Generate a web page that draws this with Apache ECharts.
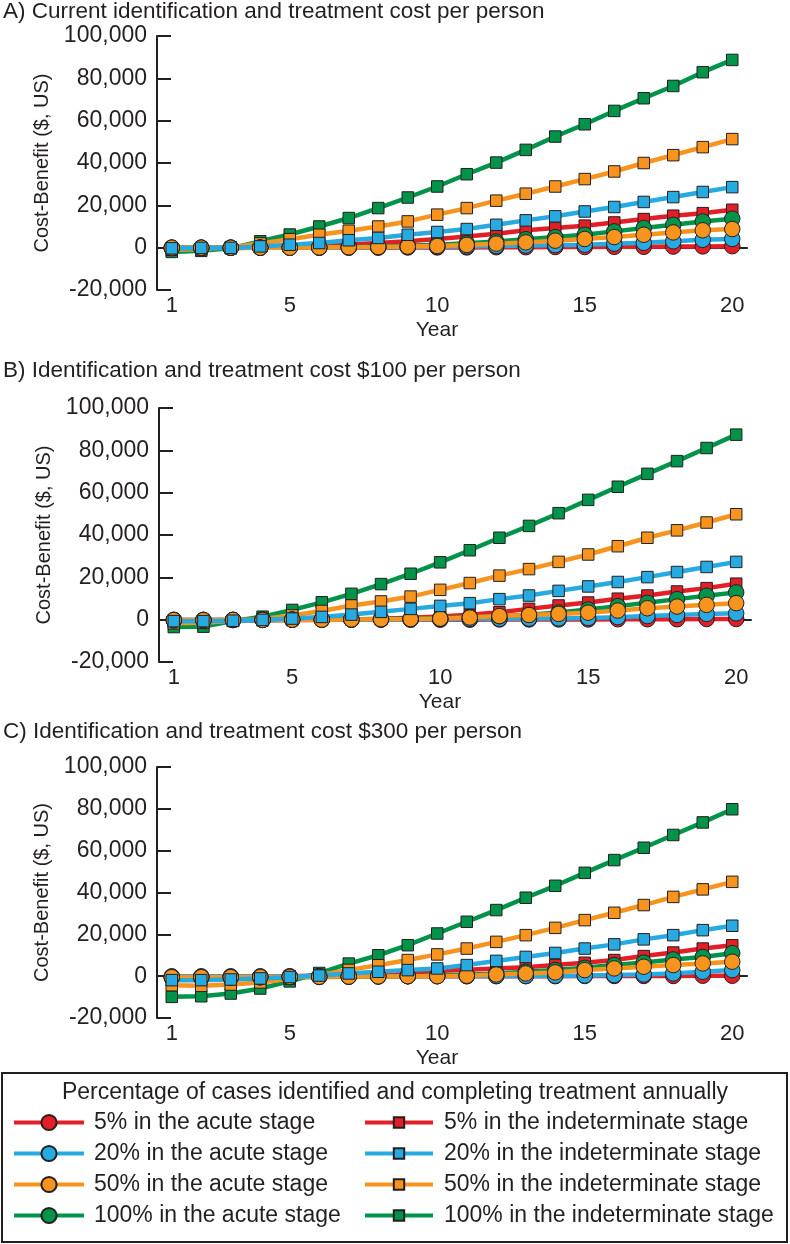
<!DOCTYPE html>
<html>
<head>
<meta charset="utf-8">
<script src="https://cdn.jsdelivr.net/npm/echarts@6/dist/echarts.min.js"></script>
<style>
html, body { margin: 0; padding: 0; background: #fff; }
#chart { width: 790px; height: 1244px; }
</style>
</head>
<body>
<div id="chart"></div>
<script>
// years on the x axis
var years = ['1','2','3','4','5','6','7','8','9','10','11','12','13','14','15','16','17','18','19','20'];
var yTicks = [-20000, 0, 20000, 40000, 60000, 80000, 100000];

// A) current cost
var aRedCi    = [0, 0, 0, 0, 0, 0, 0, 0, 100, 100, 100, 200, 200, 300, 300, 400, 400, 500, 600, 700];
var aBlueCi   = [0, 0, 0, 0, 0, 0, 100, 200, 300, 400, 600, 800, 1000, 1200, 1400, 1900, 2300, 3000, 3700, 4100];
var aOrangeCi = [0, 0, 0, 0, 0, 100, 200, 300, 500, 800, 1300, 1900, 2500, 3300, 4100, 5000, 6100, 7200, 8200, 8800];
var aGreenCi  = [-200, -200, -100, 0, 100, 200, 400, 600, 900, 1400, 2100, 2900, 4000, 5000, 6100, 7700, 9300, 10800, 12400, 13700];
var aRedSq    = [-300, -300, -100, 100, 400, 900, 1500, 2200, 3000, 4100, 5300, 6600, 8200, 9300, 10400, 11900, 13500, 15100, 16300, 17900];
var aBlueSq   = [-300, -100, -100, 600, 1400, 2200, 3500, 4600, 6100, 7400, 8800, 10800, 12900, 14800, 17100, 19200, 21600, 23900, 26300, 28600];
var aOrangeSq = [-1000, -800, 200, 2000, 4000, 6100, 8000, 10000, 12400, 15600, 18700, 22200, 25500, 28900, 32400, 36000, 40000, 43700, 47500, 51300];
var aGreenSq  = [-2000, -1500, -300, 3000, 6200, 10000, 14000, 18700, 23700, 28900, 34700, 40200, 46200, 52500, 58300, 64600, 70600, 76400, 82900, 88700];

// B) $100 per person
var bRedCi    = [-100, -100, -100, -100, 0, 0, 0, 0, 0, 0, 0, 100, 100, 100, 100, 200, 200, 200, 300, 300];
var bBlueCi   = [-100, -100, -100, 0, 0, 0, 0, 100, 100, 200, 300, 400, 500, 600, 800, 1200, 1700, 2200, 2700, 3000];
var bOrangeCi = [-200, -200, -100, -100, 0, 0, 100, 200, 300, 500, 1000, 1700, 2200, 2700, 3300, 4300, 5400, 6200, 7000, 7800];
var bGreenCi  = [-300, -300, -200, -100, 0, 100, 200, 300, 500, 800, 1200, 1600, 2300, 3400, 4800, 6400, 8000, 9700, 11300, 12900];
var bRedSq    = [-500, -500, -400, -300, -200, -100, 100, 400, 900, 1500, 2300, 3500, 5100, 6700, 8100, 9900, 11400, 13300, 14900, 17000];
var bBlueSq   = [-700, -700, -500, -100, 500, 1300, 2400, 3700, 5100, 6500, 7800, 9700, 11400, 13600, 15700, 17800, 20100, 22500, 24900, 27300];
var bOrangeSq = [-1700, -1500, -500, 300, 2000, 4100, 6700, 8600, 10900, 14100, 17300, 20800, 23900, 27300, 30800, 34700, 38700, 42200, 45900, 49800];
var bGreenSq  = [-3500, -3300, -600, 1400, 4600, 8200, 12200, 16800, 21700, 27100, 32800, 38700, 44300, 50300, 56600, 62800, 68900, 74900, 81100, 87400];

// C) $300 per person
var cRedCi    = [-100, -100, -100, -100, -100, 0, 0, 0, 0, 0, 0, 0, 0, 0, 100, 100, 100, 100, 200, 200];
var cBlueCi   = [-200, -200, -200, -200, -100, -100, -100, 0, 0, 0, 0, 100, 100, 200, 300, 500, 800, 1300, 2100, 2900];
var cOrangeCi = [-500, -500, -500, -400, -300, -300, -200, -100, 0, 0, 200, 800, 1300, 1800, 2900, 3700, 4500, 5300, 6100, 6900];
var cGreenCi  = [-800, -800, -700, -600, -500, -400, -300, -200, 0, 300, 700, 1300, 2100, 2900, 4000, 5300, 6500, 8000, 9200, 11000];
var cRedSq    = [-500, -500, -400, -300, 0, 300, 700, 1200, 1800, 2500, 3100, 3700, 4300, 5300, 6400, 7700, 9600, 11300, 13200, 14800];
var cBlueSq   = [-1900, -1900, -1600, -1100, -400, 300, 1300, 2100, 2900, 3700, 5300, 7300, 9200, 11100, 13200, 15200, 17600, 19600, 22000, 24100];
var cOrangeSq = [-4300, -4600, -4000, -3000, -1200, 500, 3000, 5200, 7700, 10400, 13200, 16400, 19600, 23100, 26800, 30300, 34000, 37900, 41500, 45100];
var cGreenSq  = [-9900, -9600, -8300, -5900, -2500, 1500, 6000, 10000, 14800, 20400, 26000, 31600, 37500, 43200, 49400, 55500, 61400, 67500, 73500, 79800];

var acuteNames = ['5% in the acute stage', '20% in the acute stage', '50% in the acute stage', '100% in the acute stage'];
var indetNames = ['5% in the indeterminate stage', '20% in the indeterminate stage', '50% in the indeterminate stage', '100% in the indeterminate stage'];
var panelTitles = [
    'A) Current identification and treatment cost per person',
    'B) Identification and treatment cost $100 per person',
    'C) Identification and treatment cost $300 per person'
];
var legendTitle = 'Percentage of cases identified and completing treatment annually';

var INK = '#231f20';
var FONT = '"Liberation Sans", Arial, sans-serif';
var COLORS = { red: '#e41e26', blue: '#27aae1', orange: '#f7941d', green: '#00934a' };

// panel positions (px)
var panels = [
    { titleTop: 0,   left: 157, top: 36,  width: 590, height: 254,
      sq: { red: aRedSq, blue: aBlueSq, orange: aOrangeSq, green: aGreenSq },
      ci: { red: aRedCi, blue: aBlueCi, orange: aOrangeCi, green: aGreenCi } },
    { titleTop: 359, left: 159, top: 408, width: 592, height: 254,
      sq: { red: bRedSq, blue: bBlueSq, orange: bOrangeSq, green: bGreenSq },
      ci: { red: bRedCi, blue: bBlueCi, orange: bOrangeCi, green: bGreenCi } },
    { titleTop: 720, left: 157, top: 767, width: 590, height: 251,
      sq: { red: cRedSq, blue: cBlueSq, orange: cOrangeSq, green: cGreenSq },
      ci: { red: cRedCi, blue: cBlueCi, orange: cOrangeCi, green: cGreenCi } }
];

var colorIndex = { red: 0, blue: 1, orange: 2, green: 3 };
// drawing order, last on top
var drawOrder = [
    ['red', 'sq'], ['green', 'sq'], ['orange', 'sq'],
    ['red', 'ci'], ['blue', 'ci'], ['green', 'ci'], ['orange', 'ci'],
    ['blue', 'sq']
];

function addCommas(v) {
    return String(v).replace(/\B(?=(\d{3})+(?!\d))/g, ',');
}

var myChart = echarts.init(document.getElementById('chart'));

var titles = [], grids = [], xAxes = [], yAxes = [], series = [];

panels.forEach(function (p, i) {
    titles.push({
        text: panelTitles[i],
        left: 3,
        top: p.titleTop,
        padding: 0,
        textStyle: { fontSize: 22.5, fontWeight: 'normal', color: INK, fontFamily: FONT }
    });
    grids.push({ left: p.left, top: p.top, width: p.width, height: p.height, containLabel: false });
    // labels axis at the bottom
    xAxes.push({
        type: 'category', gridIndex: i, data: years, boundaryGap: true, position: 'bottom',
        axisLine: { show: false, onZero: false },
        axisTick: { show: false },
        axisLabel: {
            fontSize: 22, color: INK, fontFamily: FONT, margin: 5,
            interval: function (idx, val) { return val === '1' || Number(val) % 5 === 0; }
        },
        splitLine: { show: false },
        name: 'Year', nameLocation: 'middle', nameGap: 30,
        nameTextStyle: { fontSize: 21, color: INK, fontFamily: FONT, padding: [0, 30, 0, 0] }
    });
    // zero line
    xAxes.push({
        type: 'category', gridIndex: i, data: years, boundaryGap: true, position: 'bottom',
        axisLine: { show: true, onZero: true, lineStyle: { color: INK, width: 2 } },
        axisTick: { show: false },
        axisLabel: { show: false },
        splitLine: { show: false }
    });
    yAxes.push({
        type: 'value', gridIndex: i, min: yTicks[0], max: yTicks[yTicks.length - 1], interval: 20000,
        axisLine: { show: true, onZero: false, lineStyle: { color: INK, width: 2 } },
        axisTick: { show: true, inside: true, length: 14, lineStyle: { color: INK, width: 2 } },
        axisLabel: { fontSize: 23, color: INK, fontFamily: FONT, margin: 10, formatter: addCommas },
        splitLine: { show: false },
        name: 'Cost-Benefit ($, US)', nameLocation: 'middle', nameRotate: 90, nameGap: 86,
        nameTextStyle: { fontSize: 20, color: INK, fontFamily: FONT }
    });
    drawOrder.forEach(function (d) {
        var col = d[0], kind = d[1];
        var isSq = kind === 'sq';
        series.push({
            type: 'line',
            name: isSq ? indetNames[colorIndex[col]] : acuteNames[colorIndex[col]],
            xAxisIndex: i * 2,
            yAxisIndex: i,
            data: p[kind][col],
            symbol: isSq ? 'rect' : 'circle',
            symbolSize: isSq ? 11.5 : 15.5,
            showAllSymbol: true,
            lineStyle: { color: COLORS[col], width: 4.5 },
            itemStyle: { color: COLORS[col], borderColor: INK, borderWidth: 1 },
            emphasis: { disabled: true }
        });
    });
});

var option = {
    animation: false,
    backgroundColor: '#fff',
    title: titles,
    grid: grids,
    xAxis: xAxes,
    yAxis: yAxes,
    series: series,
    legend: [
        {
            data: acuteNames, orient: 'vertical', left: 12, top: 1111, padding: 0, height: 130,
            itemWidth: 70, itemHeight: 19, itemGap: 8,
            lineStyle: { width: 4 },
            textStyle: { fontSize: 23, color: INK, fontFamily: FONT, padding: [0, 0, 0, 5] }
        },
        {
            data: indetNames, orient: 'vertical', left: 363, top: 1111, padding: 0, height: 130,
            itemWidth: 68, itemHeight: 13, itemGap: 8,
            lineStyle: { width: 4 },
            textStyle: { fontSize: 23, color: INK, fontFamily: FONT, padding: [0, 0, 0, 6] }
        }
    ],
    graphic: [
        {
            type: 'rect', shape: { x: 2, y: 1073, width: 785, height: 169 },
            style: { fill: 'none', stroke: INK, lineWidth: 2 }
        },
        {
            type: 'text', x: 395, y: 1093,
            style: { text: legendTitle, align: 'center', verticalAlign: 'middle', fontSize: 23, fontFamily: FONT, fill: INK }
        }
    ]
};

myChart.setOption(option);
</script>
</body>
</html>
